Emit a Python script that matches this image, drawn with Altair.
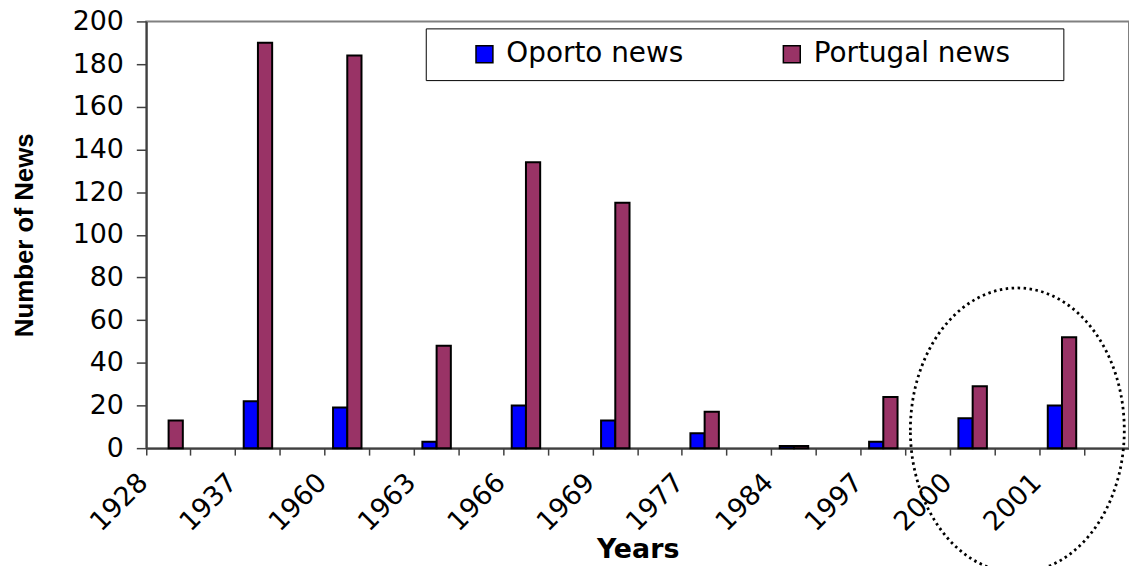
import altair as alt
import pandas as pd

# ---- data ----
years = ["1928", "1937", "1960", "1963", "1966", "1969", "1977", "1984", "1997", "2000", "2001"]
oporto = [0, 22, 19, 3, 20, 13, 7, 1, 3, 14, 20]
portugal = [13, 190, 184, 48, 134, 115, 17, 1, 24, 29, 52]
series_names = ["Oporto news", "Portugal news"]
series_colors = ["#0000FF", "#993366"]
y_ticks = list(range(0, 201, 20))
highlight_years = ["2000", "2001"]   # circled in the reference
highlight_center_value = 8.4         # vertical centre of the dotted ellipse (axis units)

rows = []
for yr, o, p in zip(years, oporto, portugal):
    rows.append({"slot": yr, "series": series_names[0], "value": o})
    rows.append({"slot": yr, "series": series_names[1], "value": p})
df = pd.DataFrame(rows)

# every year is followed by an empty slot, as in the original worksheet
slots = []
for yr in years:
    slots += [yr, "_" + yr]

x_scale = alt.Scale(domain=slots, paddingInner=0, paddingOuter=0)
y_scale = alt.Scale(domain=[0, 200], nice=False)

x_axis = alt.Axis(
    title="Years", bandPosition=0, labelAngle=-45, labelAlign="right", labelBaseline="middle",
    labelExpr="indexof(datum.value, '_') == 0 ? '' : datum.value",
    labelOverlap=False, labelBound=False,
    labelFont="DejaVu Sans", labelFontSize=27, labelColor="black",
    labelPadding=23, labelOffset=-25,
    tickSize=7, tickColor="#404040", tickWidth=1.5,
    domainColor="#404040", domainWidth=2,
    titleFont="DejaVu Sans", titleFontSize=27, titleFontWeight="bold", titleColor="black",
    titleY=110, titleBaseline="alphabetic",
)
y_axis = alt.Axis(
    title="Number of News", values=y_ticks, grid=False,
    labelFont="DejaVu Sans", labelFontSize=27, labelColor="black", labelPadding=13,
    tickSize=10, tickColor="#404040", tickWidth=1.5,
    domainColor="#404040", domainWidth=2,
    titleFont="Liberation Sans", titleFontSize=26, titleFontWeight="bold", titleColor="black",
    titleX=-122, titleAngle=-90, titleAlign="center", titleBaseline="middle",
)

BLANK = "\u2800"  # invisible, non-trimmed filler to widen the legend frame
legend = alt.Legend(
    title=None, orient="none", legendX=281, legendY=7, direction="horizontal", columns=2,
    strokeColor="black", fillColor="white", padding=12,
    symbolType="square", symbolSize=289, symbolStrokeColor="black", symbolStrokeWidth=1.5,
    symbolOpacity=1, symbolOffset=33, labelOffset=8, columnPadding=62,
    labelFont="DejaVu Sans", labelFontSize=28, labelColor="black", labelLimit=400,
    labelExpr="datum.label == 'Portugal news' ? datum.label + '" + BLANK * 2 + "' : datum.label",
)

bars = alt.Chart(df).transform_filter("datum.value > 0").mark_bar(
    stroke="black", strokeWidth=2
).encode(
    x=alt.X("slot:N", scale=x_scale, axis=x_axis, sort=slots),
    xOffset=alt.XOffset("series:N", scale=alt.Scale(domain=series_names, paddingInner=0, paddingOuter=0.57)),
    y=alt.Y("value:Q", scale=y_scale, axis=y_axis),
    color=alt.Color("series:N", scale=alt.Scale(domain=series_names, range=series_colors), legend=legend),
)

ellipse_df = pd.DataFrame({"slot": ["_" + highlight_years[0]], "value": [highlight_center_value]})
ellipse_path = "M -0.752 0 A 0.752 1 0 1 1 0.752 0 A 0.752 1 0 1 1 -0.752 0 Z"
ellipse = alt.Chart(ellipse_df).mark_point(
    shape=ellipse_path, size=286 * 286, filled=False, color="black", opacity=1,
    strokeWidth=2.8, strokeDash=[2.5, 3.5], strokeCap="butt",
).encode(
    x=alt.X("slot:N", scale=x_scale, sort=slots),
    y=alt.Y("value:Q", scale=y_scale),
)

chart = alt.layer(bars, ellipse).properties(
    width=988, height=429,
    padding={"left": 139, "top": 12, "right": 0, "bottom": 117},
    autosize=alt.AutoSizeParams(type="none"),
    background="white",
).configure_view(stroke="#808080", strokeWidth=2)

chart.save("out.html", embed_options={"renderer": "svg", "actions": False})
